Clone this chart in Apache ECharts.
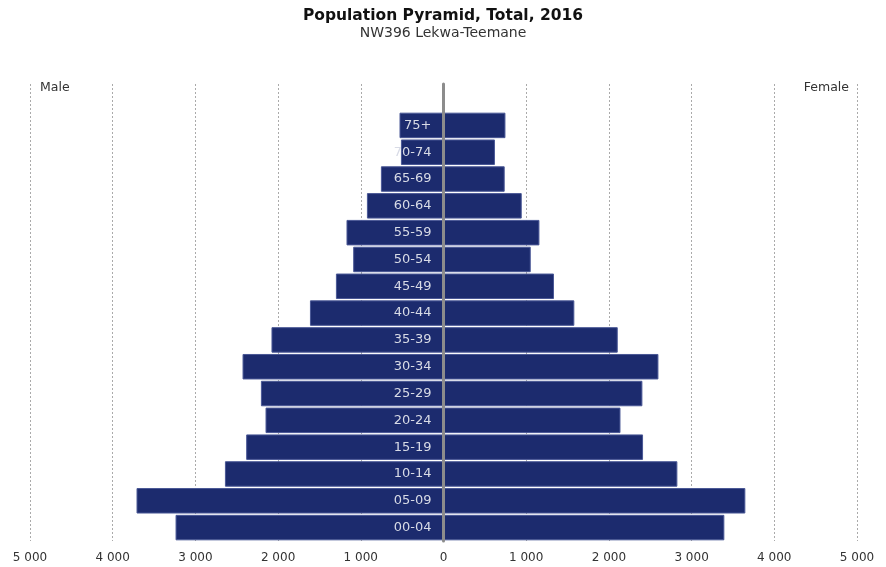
<!DOCTYPE html>
<html>
<head>
<meta charset="utf-8">
<script src="https://cdn.jsdelivr.net/npm/echarts@6/dist/echarts.min.js"></script>
<style>html,body{margin:0;padding:0;background:#fff;}#c{width:886px;height:567px;}</style>
</head>
<body>
<div id="c"></div>
<script>
var categories = ['00-04','05-09','10-14','15-19','20-24','25-29','30-34','35-39','40-44','45-49','50-54','55-59','60-64','65-69','70-74','75+'];
var male = [3240, 3712, 2643, 2386, 2152, 2208, 2430, 2080, 1615, 1301, 1092, 1173, 926, 757, 515, 532];
var female = [3396, 3650, 2828, 2413, 2140, 2405, 2599, 2107, 1582, 1336, 1055, 1160, 946, 740, 622, 749];
var tickValues = [-5000, -4000, -3000, -2000, -1000, 0, 1000, 2000, 3000, 4000, 5000];

var font = 'DejaVu Sans, Verdana, sans-serif';
function fmt(v) {
  var s = String(Math.abs(v));
  return s.replace(/\B(?=(\d{3})+(?!\d))/g, ' ');
}
var chart = echarts.init(document.getElementById('c'));
chart.setOption({
  animation: false,
  title: [
    {text: 'Population Pyramid, Total, 2016', subtext: 'NW396 Lekwa-Teemane', left: 'center', top: 3, itemGap: 2,
     textStyle: {fontFamily: font, fontSize: 15.5, fontWeight: 'bold', color: '#111'},
     subtextStyle: {fontFamily: font, fontSize: 14, color: '#333'}},
    {text: 'Male', left: 35, top: 76, textStyle: {fontFamily: font, fontSize: 12.5, fontWeight: 'normal', color: '#333'}},
    {text: 'Female', right: 32, top: 76, textStyle: {fontFamily: font, fontSize: 12.5, fontWeight: 'normal', color: '#333'}}
  ],
  grid: [
    {left: 30, right: 29, top: 112, bottom: 26, outerBoundsMode: 'none', containLabel: false},
    {left: 30, right: 29, top: 84, bottom: 26, outerBoundsMode: 'none', containLabel: false}
  ],
  xAxis: [
    {type: 'value', gridIndex: 0, min: -5000, max: 5000, interval: 1000,
     axisLine: {show: false}, axisTick: {show: false}, splitLine: {show: false},
     axisLabel: {formatter: fmt, fontFamily: font, fontSize: 12, color: '#333', margin: 11}},
    {type: 'value', gridIndex: 1, min: -5000, max: 5000, interval: 1000,
     axisLine: {show: false}, axisTick: {show: false}, axisLabel: {show: false},
     splitLine: {show: true, lineStyle: {color: '#aaa', type: [2, 2], width: 1}}}
  ],
  yAxis: [
    {type: 'category', gridIndex: 0, data: categories,
     axisLine: {show: false}, axisTick: {show: false}, axisLabel: {show: false}},
    {type: 'value', gridIndex: 1, min: 0, max: 1, z: 6,
     axisLine: {show: true, onZero: true, lineStyle: {color: '#8c8c8c', width: 3}},
     axisTick: {show: false}, axisLabel: {show: false}, splitLine: {show: false}}
  ],
  series: [
    {name: 'Male', type: 'bar', xAxisIndex: 0, yAxisIndex: 0,
     data: male.map(function (v) { return -v; }),
     barGap: '-100%', barCategoryGap: '5%',
     itemStyle: {color: '#1c2b6e', borderColor: '#4a5896', borderWidth: 1}},
    {name: 'Female', type: 'bar', xAxisIndex: 0, yAxisIndex: 0,
     data: female, barGap: '-100%', barCategoryGap: '5%',
     itemStyle: {color: '#1c2b6e', borderColor: '#4a5896', borderWidth: 1},
     label: {show: true, position: 'left', distance: 12, formatter: '{b}',
             fontFamily: font, fontSize: 13, color: '#d8dbe6'}}
  ]
});
</script>
</body>
</html>
